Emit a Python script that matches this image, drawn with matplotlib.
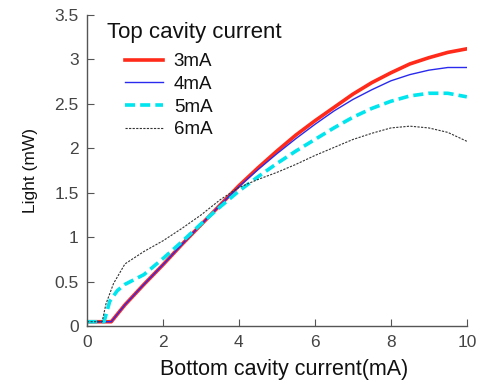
import numpy as np
import matplotlib.pyplot as plt

plt.rcParams['font.family'] = ['Liberation Sans', 'DejaVu Sans']

# Light output vs bottom cavity current, for four top cavity currents
x_3mA = [0, 0.64, 1, 1.5, 2, 2.5, 3, 3.5, 4, 4.5, 5, 5.5, 6, 6.5, 7, 7.5, 8, 8.5, 9, 9.5, 10]
y_3mA = [0.05, 0.05, 0.24, 0.47, 0.69, 0.92, 1.14, 1.36, 1.58, 1.78, 1.97, 2.15, 2.31, 2.46, 2.61, 2.74, 2.85, 2.95, 3.02, 3.08, 3.12]

x_4mA = [0, 0.64, 1, 1.5, 2, 2.5, 3, 3.5, 4, 4.5, 5, 5.5, 6, 6.5, 7, 7.5, 8, 8.5, 9, 9.5, 10]
y_4mA = [0.05, 0.05, 0.24, 0.47, 0.69, 0.92, 1.14, 1.36, 1.57, 1.76, 1.94, 2.11, 2.27, 2.42, 2.55, 2.66, 2.76, 2.83, 2.88, 2.91, 2.91]

x_5mA = [0, 0.45, 0.6, 0.8, 1.0, 1.5, 2, 2.5, 3, 3.5, 4, 4.5, 5, 5.5, 6, 6.5, 7, 7.5, 8, 8.5, 9, 9.5, 10]
y_5mA = [0.05, 0.05, 0.28, 0.4, 0.47, 0.58, 0.76, 0.95, 1.15, 1.34, 1.52, 1.68, 1.83, 1.97, 2.1, 2.23, 2.35, 2.45, 2.53, 2.59, 2.62, 2.62, 2.58]

x_6mA = [0, 0.4, 0.5, 0.7, 1.0, 1.5, 2, 2.5, 3, 3.5, 4, 4.5, 5, 5.5, 6, 6.5, 7, 7.5, 8, 8.5, 9, 9.5, 10]
y_6mA = [0.05, 0.05, 0.25, 0.48, 0.7, 0.84, 0.96, 1.1, 1.25, 1.42, 1.56, 1.65, 1.73, 1.82, 1.92, 2.01, 2.1, 2.17, 2.23, 2.25, 2.23, 2.18, 2.08]

fig = plt.figure(figsize=(4.94, 3.86), dpi=100)
ax = fig.add_axes([0.176, 0.155, 0.769, 0.806])

ax.plot(x_3mA, y_3mA, color='#ff2a1a', lw=2.6, label='3mA')
ax.plot(x_4mA, y_4mA, color='#2a2aee', lw=1.0, label='4mA')
ax.plot(x_5mA, y_5mA, color='#00e5ee', lw=2.6, ls=(0, (2.8, 1.4)), label='5mA')
ax.plot(x_6mA, y_6mA, color='#333333', lw=0.8, ls=(0, (2, 1.2)), label='6mA')

ax.set_xlim(0, 10)
ax.set_ylim(0, 3.5)
ax.set_xticks([0, 2, 4, 6, 8, 10])
ax.set_yticks([0, 0.5, 1, 1.5, 2, 2.5, 3, 3.5])
ax.set_yticklabels(['0', '0.5', '1', '1.5', '2', '2.5', '3', '3.5'])

for s in ['top', 'right']:
    ax.spines[s].set_visible(False)
for s in ['left', 'bottom']:
    ax.spines[s].set_color('#555555')
    ax.spines[s].set_linewidth(1.0)
ax.tick_params(direction='in', length=5, color='#555555', labelsize=12.5,
               labelcolor='#444444', pad=6)

ax.set_xlabel('Bottom cavity current(mA)', fontsize=15.5, color='#111111', labelpad=7)
ax.xaxis.label.set_x(0.52)
ax.set_ylabel('Light (mW)', fontsize=12.5, color='#111111', labelpad=12)

# legend title drawn separately so it sits left of the handles
fig.text(107 / 494, 1 - 38 / 386, 'Top cavity current', fontsize=16,
         color='#111111', va='baseline', ha='left')
leg = ax.legend(loc='upper left', bbox_to_anchor=(125 / 494, 1 - 53 / 386),
                bbox_transform=fig.transFigure, frameon=False, fontsize=13.5,
                handlelength=2.0, handletextpad=0.6, labelspacing=0.3,
                borderpad=0, borderaxespad=0)
for t in leg.get_texts():
    t.set_color('#111111')

fig.savefig('out.png', dpi=100)
